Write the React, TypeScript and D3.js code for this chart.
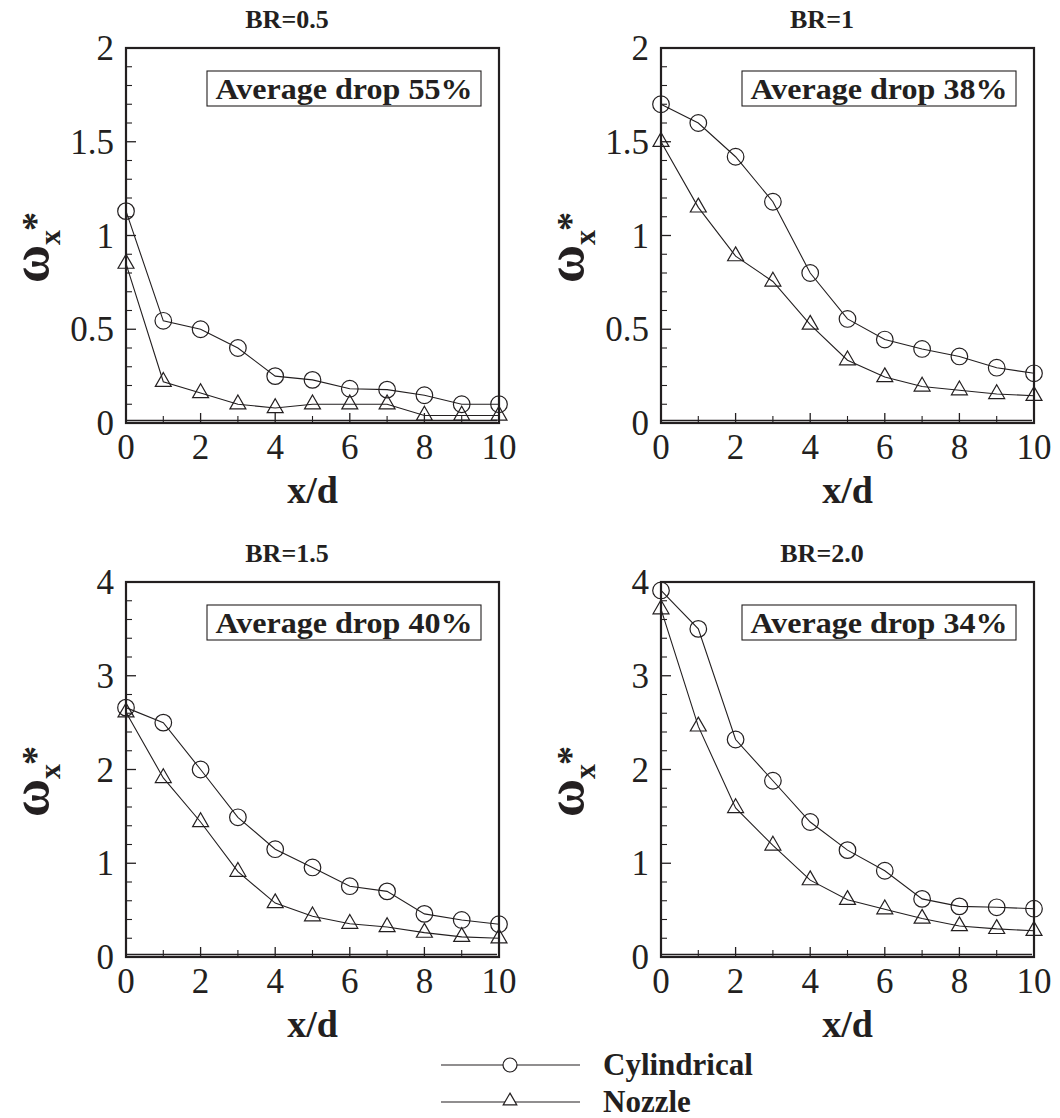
import React from "react";
import * as d3 from "d3";

const xd = [0, 1, 2, 3, 4, 5, 6, 7, 8, 9, 10];
const titles = ["BR=0.5", "BR=1", "BR=1.5", "BR=2.0"];
const drops = ["Average drop 55%", "Average drop 38%", "Average drop 40%", "Average drop 34%"];
const yMaxes = [2, 2, 4, 4];
const yMajorSteps = [0.5, 0.5, 1, 1];
const yMinorSteps = [0.1, 0.1, 0.2, 0.2];
const xTicks = [0, 2, 4, 6, 8, 10];
const xMinorTicks = [1, 3, 5, 7, 9];

const cyl05 = [1.13, 0.545, 0.5, 0.4, 0.25, 0.23, 0.183, 0.178, 0.148, 0.1, 0.1];
const noz05 = [0.85, 0.22, 0.16, 0.1, 0.08, 0.1, 0.1, 0.1, 0.04, 0.04, 0.04];
const cyl10 = [1.7, 1.6, 1.42, 1.18, 0.8, 0.555, 0.445, 0.395, 0.355, 0.295, 0.265];
const noz10 = [1.5, 1.15, 0.89, 0.755, 0.525, 0.335, 0.245, 0.195, 0.175, 0.155, 0.145];
const cyl15 = [2.66, 2.5, 2.0, 1.49, 1.15, 0.955, 0.755, 0.7, 0.46, 0.395, 0.35];
const noz15 = [2.61, 1.91, 1.44, 0.91, 0.575, 0.435, 0.355, 0.32, 0.26, 0.215, 0.2];
const cyl20 = [3.91, 3.5, 2.32, 1.88, 1.44, 1.14, 0.92, 0.62, 0.54, 0.53, 0.515];
const noz20 = [3.71, 2.46, 1.59, 1.19, 0.82, 0.61, 0.51, 0.41, 0.33, 0.3, 0.28];

const cylSeries = [cyl05, cyl10, cyl15, cyl20];
const nozSeries = [noz05, noz10, noz15, noz20];
const legendLabels = ["Cylindrical", "Nozzle"];

const FONT = "'Liberation Serif', 'Times New Roman', Times, serif";
const INK = "#231f20";
const PW = 373;
const PH = 375;
const origins = [
  [126, 48],
  [661, 48],
  [126, 582],
  [661, 582],
];

const triPath = d3.symbol(d3.symbolTriangle, 110)() as string;

function Panel({ idx }: { idx: number }) {
  const [left, top] = origins[idx];
  const x = d3.scaleLinear().domain([0, 10]).range([left, left + PW]);
  const y = d3.scaleLinear().domain([0, yMaxes[idx]]).range([top + PH, top]);
  const majors = d3.range(0, yMaxes[idx] + 1e-9, yMajorSteps[idx]);
  const minors = d3
    .range(0, yMaxes[idx] + 1e-9, yMinorSteps[idx])
    .filter((v) => Math.abs(v / yMajorSteps[idx] - Math.round(v / yMajorSteps[idx])) > 1e-6);
  const line = d3
    .line<number>()
    .x((_, i) => x(xd[i]))
    .y((d) => y(d));
  const cyl = cylSeries[idx];
  const noz = nozSeries[idx];
  const bottom = top + PH;
  const axisY = bottom - 2.5;
  const midY = (top + bottom) / 2;
  const labX = left - 78;
  const boxL = left + 81;
  const boxW = PW - 99;
  return (
    <g>
      <text x={left + 161} y={top - 20} fontFamily={FONT} fontWeight="bold" fontSize={26} textAnchor="middle" fill={INK}>
        {titles[idx]}
      </text>
      <rect x={left} y={top} width={PW} height={PH} fill="none" stroke={INK} strokeWidth={2.2} />
      <line x1={left} x2={left + PW - 2} y1={axisY} y2={axisY} stroke={INK} strokeWidth={1.3} />
      {majors.map((v) => (
        <g key={"ym" + v}>
          <line x1={left} x2={left + 10} y1={y(v)} y2={y(v)} stroke={INK} strokeWidth={1.3} />
          <text x={left - 12} y={y(v) + 12} fontFamily={FONT} fontSize={35} textAnchor="end" fill={INK}>
            {String(v)}
          </text>
        </g>
      ))}
      {minors.map((v) => (
        <line key={"yn" + v} x1={left} x2={left + 6} y1={y(v)} y2={y(v)} stroke={INK} strokeWidth={1.1} />
      ))}
      {xTicks.map((v) => (
        <g key={"xm" + v}>
          <line x1={x(v)} x2={x(v)} y1={bottom} y2={bottom - 10} stroke={INK} strokeWidth={1.3} />
          <text x={x(v)} y={bottom + 36} fontFamily={FONT} fontSize={35} textAnchor="middle" fill={INK}>
            {String(v)}
          </text>
        </g>
      ))}
      {xMinorTicks.map((v) => (
        <line key={"xn" + v} x1={x(v)} x2={x(v)} y1={bottom} y2={bottom - 7} stroke={INK} strokeWidth={1.1} />
      ))}
      <text x={left + PW / 2} y={bottom + 80} fontFamily={FONT} fontWeight="bold" fontSize={38} textAnchor="middle" fill={INK}>
        x/d
      </text>
      <text
        transform={`translate(${labX},${midY + 12}) rotate(-90)`}
        fontFamily={FONT}
        fontWeight="bold"
        textAnchor="middle"
        fill={INK}
      >
        <tspan fontSize={52}>ω</tspan>
        <tspan fontSize={30} dy={12}>x</tspan>
        <tspan fontSize={38} dy={-12} dx={-1}>*</tspan>
      </text>
      <rect x={boxL} y={top + 23} width={boxW} height={35} fill="white" stroke={INK} strokeWidth={1.1} />
      <text
        x={boxL + boxW / 2}
        y={top + 51}
        fontFamily={FONT}
        fontWeight="bold"
        fontSize={30}
        textAnchor="middle"
        textLength={boxW - 17}
        lengthAdjust="spacingAndGlyphs"
        fill={INK}
      >
        {drops[idx]}
      </text>
      <path d={line(cyl) as string} fill="none" stroke={INK} strokeWidth={1.1} />
      <path d={line(noz) as string} fill="none" stroke={INK} strokeWidth={1.1} />
      {cyl.map((v, i) => (
        <circle key={"c" + i} cx={x(xd[i])} cy={y(v)} r={8.3} fill="none" stroke={INK} strokeWidth={1.2} />
      ))}
      {noz.map((v, i) => (
        <path key={"t" + i} d={triPath} transform={`translate(${x(xd[i])},${y(v)})`} fill="none" stroke={INK} strokeWidth={1.2} />
      ))}
    </g>
  );
}

export default function App() {
  return (
    <svg width={1060} height={1118} style={{ position: "absolute", left: 0, top: 0, background: "white" }}>
      <rect x={0} y={0} width={1060} height={1118} fill="white" />
      {[0, 1, 2, 3].map((i) => (
        <Panel key={i} idx={i} />
      ))}
      {legendLabels.map((lab, i) => {
        const ly = 1065 + i * 37;
        return (
          <g key={lab}>
            <line x1={441} x2={580} y1={ly} y2={ly} stroke={INK} strokeWidth={1.1} />
            {i === 0 ? (
              <circle cx={510} cy={ly} r={7} fill="white" stroke={INK} strokeWidth={1.2} />
            ) : (
              <path d={d3.symbol(d3.symbolTriangle, 80)() as string} transform={`translate(510,${ly - 1})`} fill="white" stroke={INK} strokeWidth={1.2} />
            )}
            <text x={603} y={ly + 10} fontFamily={FONT} fontWeight="bold" fontSize={31} fill={INK}>
              {lab}
            </text>
          </g>
        );
      })}
    </svg>
  );
}
